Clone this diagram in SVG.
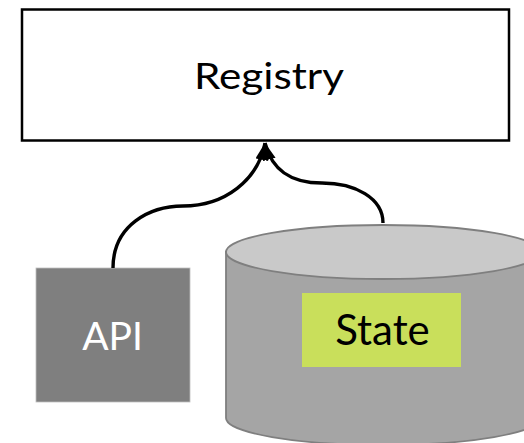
<svg xmlns="http://www.w3.org/2000/svg" width="524" height="443" viewBox="0 0 524 443">
  <style>
    .lbl { font-family: Lato, "Open Sans", "Liberation Sans", sans-serif; text-anchor: middle; }
    .conn { fill: none; stroke: #000; stroke-width: 3.4; }
  </style>
  <defs>
    <marker id="arrow" markerUnits="userSpaceOnUse" markerWidth="20" markerHeight="14" refX="17" refY="6.5" orient="auto">
      <path d="M0,0 L17,6.5 L0,13 Z" fill="#000"/>
    </marker>
  </defs>
  <rect width="524" height="443" fill="#fff"/>
  <g id="registry">
    <rect x="22" y="9.5" width="487" height="131" fill="#fff" stroke="#000" stroke-width="2.5"/>
    <text class="lbl" x="269" y="89" font-size="37" textLength="150" lengthAdjust="spacingAndGlyphs" fill="#000">Registry</text>
  </g>
  <g id="api">
    <rect x="36" y="268" width="154" height="134" fill="#7f7f7f" stroke="#bfbfbf" stroke-width="0.8"/>
    <text class="lbl" x="112.5" y="350" font-size="39" fill="#fff">API</text>
  </g>
  <g id="state-store">
    <path d="M226,252 L226,418 A157,27 0 0 0 540,418 L540,252 Z" fill="#a5a5a5" stroke="#7f7f7f" stroke-width="1.8"/>
    <ellipse cx="383" cy="252" rx="157" ry="27" fill="#c9c9c9" stroke="#7f7f7f" stroke-width="1.8"/>
  </g>
  <g id="state">
    <rect x="302" y="293" width="159" height="74" fill="#c9df5b"/>
    <text class="lbl" x="382.5" y="345" font-size="42" fill="#000">State</text>
  </g>
  <g id="connectors">
    <path class="conn" d="M113,268 C113,225 150,206 183,206 C225,206 258,180 265,143" marker-end="url(#arrow)"/>
    <path class="conn" d="M383,223 C383,198 355,183 322,183 C290,183 272,170 265,143" marker-end="url(#arrow)"/>
  </g>
</svg>
